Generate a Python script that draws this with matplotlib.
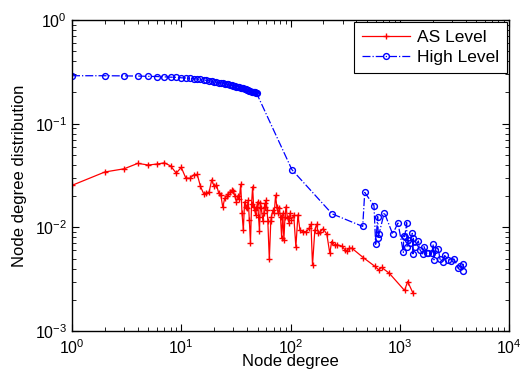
import matplotlib
matplotlib.use("Agg")
import matplotlib.pyplot as plt

plt.rcParams['font.family'] = ['Liberation Sans', 'DejaVu Sans']
plt.rcParams['mathtext.default'] = 'regular'

# AS-level degree distribution
as_degree = [1, 2, 3, 4, 5, 6, 7, 8, 9, 10, 11, 12, 13, 14, 15, 16, 17, 18, 19, 20,
             21, 22, 23, 24, 25, 26, 27, 28, 29, 30, 31, 32, 33, 34, 35, 36, 37, 38, 39, 40,
             41, 42, 43, 44, 45, 46, 47, 48, 49, 50, 51, 52, 53, 54, 56, 57, 58, 59, 60, 61,
             62, 64, 66, 67, 69, 71, 73, 75, 77, 79, 81, 83, 85, 87, 89, 91, 94, 97, 99, 102,
             107, 112, 117, 122, 130, 140, 148, 154, 159, 167, 173, 180, 187, 199, 215, 229,
             238, 255, 266, 294, 315, 326, 345, 364, 464, 593, 640, 684, 803, 1107, 1181, 1325]
as_value = [0.0254, 0.0342, 0.0367, 0.0414, 0.0399, 0.0408, 0.0419, 0.0391, 0.0333, 0.0379,
            0.0299, 0.0297, 0.0321, 0.0324, 0.0248, 0.0212, 0.0215, 0.0219, 0.0287, 0.0248,
            0.0257, 0.0215, 0.0206, 0.0156, 0.0191, 0.0199, 0.0211, 0.0220, 0.0228, 0.0224,
            0.0199, 0.0176, 0.0202, 0.0186, 0.0260, 0.0136, 0.0094, 0.0176, 0.0157, 0.0153,
            0.0183, 0.0118, 0.0070, 0.0167, 0.0246, 0.0158, 0.0146, 0.0132, 0.0157, 0.0176,
            0.0125, 0.0093, 0.0172, 0.0152, 0.0114, 0.0136, 0.0170, 0.0157, 0.0183, 0.0146,
            0.0115, 0.0049, 0.0115, 0.0127, 0.0146, 0.0137, 0.0204, 0.0157, 0.0136, 0.0153,
            0.0125, 0.0079, 0.0137, 0.0076, 0.0125, 0.0158, 0.0122, 0.0111, 0.0137, 0.0119,
            0.0131, 0.0065, 0.0132, 0.0094, 0.0091, 0.0091, 0.0098, 0.0107, 0.0043, 0.0094,
            0.0107, 0.0088, 0.0091, 0.0097, 0.0086, 0.0056, 0.0073, 0.0067, 0.0068, 0.0066,
            0.0061, 0.0059, 0.0063, 0.0063, 0.0051, 0.0042, 0.0039, 0.0041, 0.0036, 0.00246,
            0.0030, 0.00231]

# High-level degree distribution
hl_degree = list(range(1, 50)) + [
    103, 240, 458, 478, 581, 602, 628, 637, 646, 722, 861, 964, 1079, 1086, 1110, 1157,
    1165, 1198, 1241, 1304, 1322, 1331, 1380, 1480, 1532, 1622, 1667, 1763, 1827, 1961,
    2030, 2058, 2118, 2255, 2335, 2506, 2577, 2785, 2925, 3139, 3437, 3560, 3767, 3820]
hl_value = [0.290, 0.290, 0.289, 0.288, 0.286, 0.285, 0.283, 0.281, 0.280, 0.277,
            0.276, 0.273, 0.272, 0.269, 0.267, 0.264, 0.262, 0.259, 0.257, 0.253,
            0.252, 0.249, 0.248, 0.245, 0.244, 0.241, 0.239, 0.236, 0.235, 0.232,
            0.230, 0.228, 0.227, 0.224, 0.223, 0.220, 0.219, 0.216, 0.215, 0.212,
            0.211, 0.208, 0.207, 0.204, 0.203, 0.201, 0.200, 0.197, 0.196,
            0.0360, 0.0135, 0.0102, 0.0217, 0.0162, 0.00687, 0.0127, 0.00784, 0.00862, 0.0139,
            0.00862, 0.0110, 0.00575, 0.00826, 0.00813, 0.0111, 0.00652, 0.00756, 0.00703, 0.00875,
            0.00555, 0.00784, 0.00652, 0.00739, 0.00606, 0.00555, 0.00652, 0.00563, 0.00568, 0.00563,
            0.00687, 0.00486, 0.00606, 0.00615, 0.00494, 0.00466, 0.00535, 0.00486, 0.00476, 0.00494,
            0.00405, 0.00426, 0.00378, 0.00445]

series_names = ["AS Level", "High Level"]

fig = plt.figure(figsize=(5.32, 3.75), dpi=100)
ax = fig.add_axes([72 / 532, 44 / 375, 437 / 532, 311 / 375])

ax.loglog(as_degree, as_value, color='#ff0000', linestyle='-', linewidth=0.9,
          marker='+', markersize=5, markeredgewidth=1.0, label=series_names[0])
ax.loglog(hl_degree, hl_value, color='#0000ff', linestyle='-.', linewidth=0.9,
          marker='o', markersize=4.2, markerfacecolor='none', markeredgewidth=1.0,
          label=series_names[1])

ax.set_xlim(1, 1e4)
ax.set_ylim(1e-3, 1)

ax.tick_params(which='both', direction='in', top=True, right=True, labelsize=11.5)
ax.tick_params(axis='x', which='major', pad=5)
ax.tick_params(which='major', length=5, width=0.8)
ax.tick_params(which='minor', length=3, width=0.6)
for s in ax.spines.values():
    s.set_linewidth(1.0)

ax.set_xlabel("Node degree", fontsize=12, labelpad=-2)
ax.set_ylabel("Node degree distribution", fontsize=12, labelpad=6)

leg = ax.legend(loc='upper right', fontsize=12.5, fancybox=False, framealpha=1,
                edgecolor='black', borderaxespad=0.1, handlelength=2.8,
                borderpad=0.45, labelspacing=0.3, handletextpad=0.4)
leg.get_frame().set_linewidth(0.8)

fig.savefig("out.png", dpi=100)
